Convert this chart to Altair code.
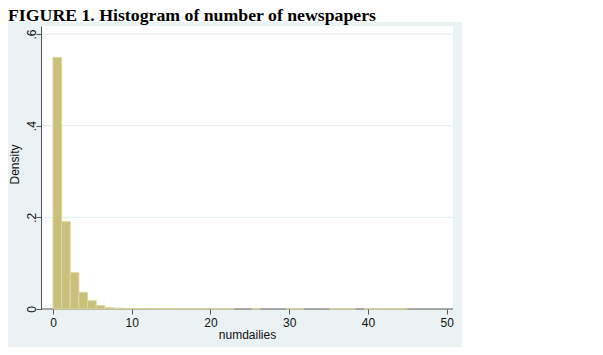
import altair as alt
import pandas as pd

# Histogram: 41 bins of equal width over [0, 45]
bin_count = 41
bin_max = 45.0
density = [
    0.549, 0.1905, 0.0792, 0.0364, 0.018, 0.0073, 0.003, 0.0018, 0.0012, 0.0009,
    0.0008, 0.0007, 0.0006, 0.0005, 0.0005, 0.0004, 0.0004, 0.0004, 0.0003, 0.0003,
    0.0003, 0.0, 0.0, 0.0003, 0.0, 0.0, 0.0, 0.0003, 0.0003, 0.0,
    0.0, 0.0, 0.0003, 0.0003, 0.0003, 0.0, 0.0003, 0.0003, 0.0003, 0.0003,
    0.0003,
]
x_ticks = [0, 10, 20, 30, 40, 50]
y_ticks = [0, 0.2, 0.4, 0.6]
grid_vals = [0.2, 0.4, 0.6]
title_text = "FIGURE 1. Histogram of number of newspapers"

w = bin_max / bin_count
df = pd.DataFrame({
    "x0": [i * w for i in range(bin_count)],
    "x1": [(i + 1) * w for i in range(bin_count)],
    "density": density,
})
df = df[df["density"] > 0]

xscale = alt.Scale(domain=[-1.52, 50.8], nice=False, zero=False)
yscale = alt.Scale(domain=[0, 0.6175], nice=False)

W, H = 412, 283

yaxis = alt.Axis(
    values=y_ticks, title="Density", grid=False, domainColor="#555555",
    tickSize=5, tickColor="#555555", labelColor="#111111", labelFontSize=12,
    labelFont="Liberation Sans", labelAngle=270, labelAlign="center",
    labelBaseline="alphabetic", labelPadding=1,
    labelExpr="datum.value == 0 ? '0' : replace(format(datum.value, '.1f'), '0.', '.')",
    titleFont="Liberation Sans", titleFontSize=12, titleFontWeight="normal",
    titleColor="#111111", titleX=-20, titleY=138, zindex=1)

bg = alt.Chart(alt.Data(values=[{}])).mark_rect(color="#eaf2f3").encode(
    x=alt.value(-34), x2=alt.value(421), y=alt.value(-4), y2=alt.value(321)
)
plotbg = alt.Chart(alt.Data(values=[{}])).mark_rect(color="white").encode(
    x=alt.value(0), x2=alt.value(W), y=alt.value(0), y2=alt.value(H)
)
grid = alt.Chart(pd.DataFrame({"density": grid_vals})).mark_rule(
    color="#e3edf0", strokeWidth=1
).encode(y=alt.Y("density:Q", scale=yscale, axis=yaxis))

xdomain = alt.Chart(alt.Data(values=[{}])).mark_rule(
    color="#555555", strokeWidth=1
).encode(y=alt.datum(0))

bars = alt.Chart(df).mark_rect(
    fill="#c9c07c", stroke="#ddd6a0", strokeWidth=1
).encode(
    x=alt.X("x0:Q", scale=xscale, axis=alt.Axis(
        values=x_ticks, format="d", title="numdailies", grid=False, domain=False,
        tickSize=5, tickColor="#555555", labelColor="#111111", labelFontSize=12,
        labelFont="Liberation Sans", titleFont="Liberation Sans", titleFontSize=12,
        titleFontWeight="normal", titleColor="#111111", labelPadding=3, titlePadding=1,
        zindex=1)),
    x2="x1:Q",
    y=alt.Y("density:Q", scale=yscale, axis=yaxis),
    y2=alt.datum(0),
)

title = alt.Chart(alt.Data(values=[{}])).mark_text(
    font="Liberation Serif", fontSize=17.75, fontWeight="bold", color="black",
    align="left", baseline="alphabetic",
).encode(x=alt.value(-33), y=alt.value(-5), text=alt.value(title_text))

chart = alt.layer(bg, plotbg, grid, xdomain, bars, title).properties(
    width=W, height=H,
    autosize=alt.AutoSizeParams(type="none"),
    padding={"left": 33, "top": 18, "right": 12, "bottom": 40},
).configure_view(stroke=None, fill=None).configure(background="white")

chart.save("out.html", embed_options={"renderer": "svg", "actions": False})
